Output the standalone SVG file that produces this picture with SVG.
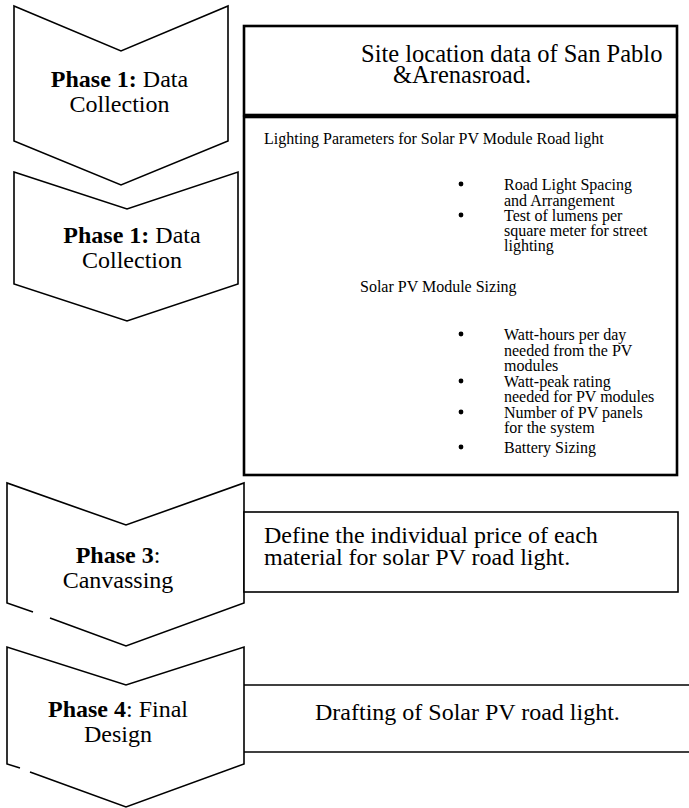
<svg xmlns="http://www.w3.org/2000/svg" width="689" height="808" viewBox="0 0 689 808">
<style>
text{font-family:"Liberation Serif","Times New Roman",serif;fill:#000}
.big{font-size:24px}
.mid{font-size:24.5px}
.sm{font-size:16px}
.c{text-anchor:middle}
.b{font-weight:bold}
.chev{fill:#fff;stroke:none}
.edge{fill:none;stroke:#000;stroke-width:1.6;stroke-linejoin:miter}
.boxT{fill:#fff;stroke:#000;stroke-width:2.6}
.boxt{fill:#fff;stroke:#000;stroke-width:1.6}
.ln{stroke:#000;stroke-width:1.6}
.dot{fill:#000}
</style>
<rect width="689" height="808" fill="#fff"/>

<g id="phase1a">
<polygon class="chev" points="14,6 121,51 228,6 228,141 121,185 14,141"/>
<path class="edge" d="M14,6 L121,51 L228,6 L228,141 L121,185 L14,141 Z"/>
<text class="big c" x="119.5" y="87"><tspan class="b">Phase 1:</tspan> Data</text>
<text class="big c" x="119.5" y="112">Collection</text>
</g>

<g id="phase1b">
<polygon class="chev" points="14,172 127,209 238,172 238,284 127,321 14,284"/>
<path class="edge" d="M14,172 L127,209 L238,172 L238,284 L127,321 L14,284 Z"/>
<text class="big c" x="132" y="243"><tspan class="b">Phase 1:</tspan> Data</text>
<text class="big c" x="132" y="268">Collection</text>
</g>

<g id="phase3">
<polygon class="chev" points="7,483 126,525 244,483 244,603 126,646 7,603"/>
<path class="edge" d="M33,612 L7,603 L7,483 L126,525 L244,483 L244,603 L126,646 L50,618"/>
<text class="big c" x="118" y="563"><tspan class="b">Phase 3</tspan>:</text>
<text class="big c" x="118" y="588">Canvassing</text>
</g>

<g id="phase4">
<polygon class="chev" points="7,647 126,685 244,647 244,764 126,807 7,764"/>
<path class="edge" d="M20,768 L7,764 L7,647 L126,685 L244,647 L244,764 L126,807 L30,772"/>
<text class="big c" x="118" y="717"><tspan class="b">Phase 4</tspan>: Final</text>
<text class="big c" x="118" y="742">Design</text>
</g>

<g id="site">
<rect class="boxT" x="244" y="26" width="433" height="89"/>
<text class="mid" x="361" y="61.5">Site location data of San Pablo</text>
<text class="mid" x="393" y="83">&amp;Arenasroad.</text>
</g>

<g id="params">
<rect class="boxT" x="244" y="117" width="433" height="358"/>
<text class="sm" x="264" y="144">Lighting Parameters for Solar PV Module Road light</text>
<circle class="dot" cx="461" cy="184" r="2.4"/>
<text class="sm" x="504" y="190">Road Light Spacing</text>
<text class="sm" x="504" y="205.5">and Arrangement</text>
<circle class="dot" cx="461" cy="215" r="2.4"/>
<text class="sm" x="504" y="221">Test of lumens per</text>
<text class="sm" x="504" y="236">square meter for street</text>
<text class="sm" x="504" y="251">lighting</text>
<text class="sm" x="360" y="292">Solar PV Module Sizing</text>
<circle class="dot" cx="461" cy="334" r="2.4"/>
<text class="sm" x="504" y="340">Watt-hours per day</text>
<text class="sm" x="504" y="355.5">needed from the PV</text>
<text class="sm" x="504" y="371">modules</text>
<circle class="dot" cx="461" cy="381" r="2.4"/>
<text class="sm" x="504" y="386.5">Watt-peak rating</text>
<text class="sm" x="504" y="402">needed for PV modules</text>
<circle class="dot" cx="461" cy="412" r="2.4"/>
<text class="sm" x="504" y="417.5">Number of PV panels</text>
<text class="sm" x="504" y="433">for the system</text>
<circle class="dot" cx="461" cy="447" r="2.4"/>
<text class="sm" x="504" y="453">Battery Sizing</text>
</g>

<g id="price">
<rect class="boxt" x="244" y="512" width="434" height="80"/>
<text class="big" x="264" y="543">Define the individual price of each</text>
<text class="big" x="264" y="565">material for solar PV road light.</text>
</g>

<g id="drafting">
<line class="ln" x1="244" y1="685" x2="689" y2="685"/>
<line class="ln" x1="244" y1="752" x2="689" y2="752"/>
<text class="big" x="315" y="720">Drafting of Solar PV road light.</text>
</g>

<g id="connectors"></g>
</svg>
